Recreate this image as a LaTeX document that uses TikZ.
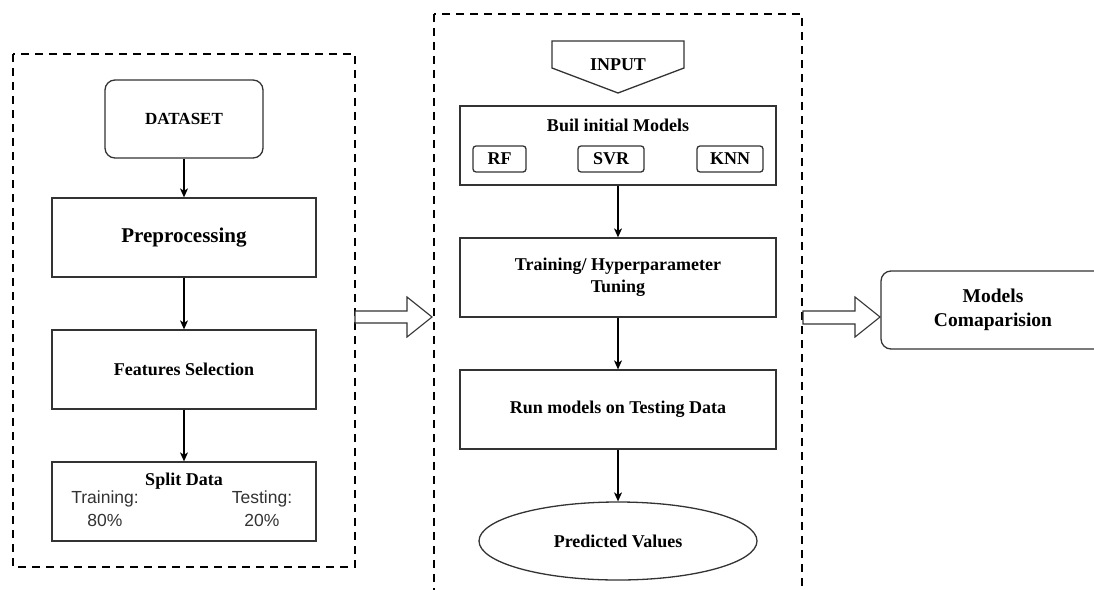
\documentclass[tikz,border=0pt]{standalone}
\usepackage{fontspec}
\setmainfont{Liberation Serif}
\newfontfamily\sansf{Liberation Sans}
\usetikzlibrary{arrows.meta,shapes.geometric}
\definecolor{linec}{HTML}{333333}
\tikzset{
  box/.style={draw=linec, line width=1.3pt, rectangle, minimum width=264pt, minimum height=79pt, inner sep=0pt, align=center, font=\bfseries\fontsize{18}{22}\selectfont},
  rbox/.style={box, rounded corners=10pt},
  mbox/.style={box, minimum width=316pt},
  small/.style={draw=linec, line width=1.3pt, rounded corners=3pt, minimum height=26pt, inner sep=0pt, font=\bfseries\fontsize{18}{22}\selectfont},
  lbl/.style={inner sep=0pt, align=center, font=\bfseries\fontsize{18}{22}\selectfont},
  flow/.style={draw=black, line width=1.1pt, -{Stealth[length=9pt,width=8pt,inset=2.5pt]}},
  group/.style={draw=black, line width=1.1pt, dash pattern=on 8pt off 6pt},
  blockarrow/.style={draw=linec, line width=1.1pt, fill=white}
}
\begin{document}
\begin{tikzpicture}[x=1pt,y=-1pt]
\clip (0,0) rectangle (1094,589);
\fill[white] (0,0) rectangle (1094,589);
% dashed groups
\draw[group] (13,54) rectangle (355,567);
\draw[group] (434,14) -- (434,600) (802,600) -- (802,14) -- (434,14);
% left column
\node[rbox, minimum width=158pt, minimum height=78pt, font=\bfseries\fontsize{17}{20}\selectfont] (dataset) at (184,119) {DATASET};
\node[box, font=\bfseries\fontsize{21}{24}\selectfont] (prep) at (184,237.5) {Preprocessing};
\node[box] (feat) at (184,369.5) {Features Selection};
\node[box] (split) at (184,501.5) {};
\node[lbl] (splitt) at (184,481) {Split Data};
\node[inner sep=0pt, align=center, text=linec, font=\sansf\fontsize{17.5}{23}\selectfont] (trn) at (105,509) {Training:\\80\%};
\node[inner sep=0pt, align=center, text=linec, font=\sansf\fontsize{17.5}{23}\selectfont] (tst) at (262,509) {Testing:\\20\%};
\draw[flow] (dataset.south) -- (prep.north);
\draw[flow] (prep.south) -- (feat.north);
\draw[flow] (feat.south) -- (split.north);
% middle column
\draw[draw=linec, line width=1.3pt] (552,41) -- (684,41) -- (684,68) -- (618,93) -- (552,68) -- cycle;
\node[lbl] (input) at (618,65) {INPUT};
\node[mbox] (buil) at (618,145.5) {};
\node[lbl] (builtitle) at (618,125) {Buil initial Models};
\node[small, minimum width=53pt] (rf) at (499.5,159) {RF};
\node[small, minimum width=66pt] (svr) at (611,159) {SVR};
\node[small, minimum width=66pt] (knn) at (730,159) {KNN};
\node[mbox] (train) at (618,277.5) {Training/ Hyperparameter\\Tuning};
\node[mbox] (run) at (618,409.5) {Run models on Testing Data};
\node[ellipse, draw=linec, line width=1.3pt, minimum width=278pt, minimum height=78pt, inner sep=0pt, font=\bfseries\fontsize{18}{22}\selectfont] (pred) at (618,541) {Predicted Values};
\draw[flow] (buil.south) -- (train.north);
\draw[flow] (train.south) -- (run.north);
\draw[flow] (run.south) -- (pred.north);
% right
\node[rbox, minimum width=224pt, minimum height=78pt, font=\bfseries\fontsize{19.5}{24}\selectfont] (cmp) at (993,310) {Models\\Comaparision};
% block arrows
\draw[blockarrow] (355,311) -- (407,311) -- (407,297) -- (432,317) -- (407,337) -- (407,323) -- (355,323) -- cycle;
\draw[blockarrow] (803,311) -- (855,311) -- (855,297) -- (880,317) -- (855,337) -- (855,324) -- (803,324) -- cycle;
\end{tikzpicture}
\end{document}
